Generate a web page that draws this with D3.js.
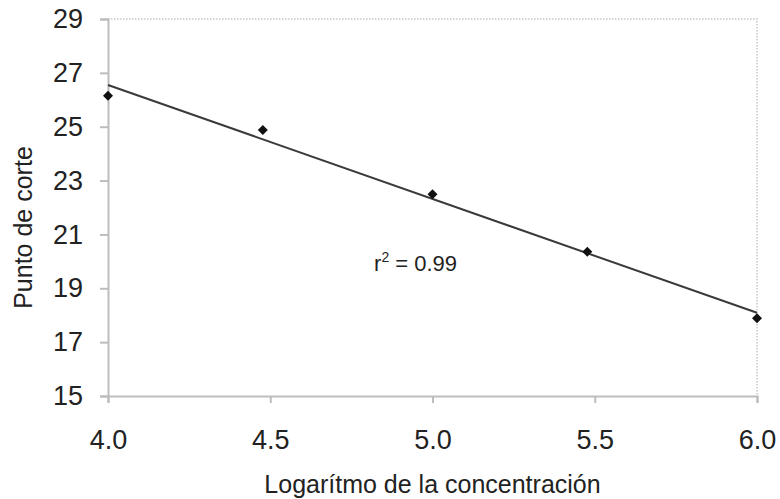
<!DOCTYPE html>
<html><head><meta charset="utf-8">
<script src="https://cdn.jsdelivr.net/npm/d3@7"></script>
<style>body{margin:0;background:#fff}svg{display:block}text{font-family:"Liberation Sans",Arial,sans-serif;fill:#222}</style>
</head><body><svg id="c" width="780" height="499"></svg>
<script>
const xValues = [4.0, 4.477, 5.0, 5.477, 6.0];
const yValues = [26.15, 24.88, 22.49, 20.36, 17.89];
const fitX = [4.0, 6.0];
const fitY = [26.55, 18.09];
const xTicks = [4.0, 4.5, 5.0, 5.5, 6.0];
const yTicks = [15, 17, 19, 21, 23, 25, 27, 29];
const xTitle = "Logarítmo de la concentración";
const yTitle = "Punto de corte";
const rLabel = {x: 4.82, y: 19.66};

const svg = d3.select("#c");
const L = 108, R = 757, T = 19, B = 396;
const x = d3.scaleLinear().domain([4, 6]).range([L, R]);
const y = d3.scaleLinear().domain([15, 29]).range([B, T]);

// dotted top/right border
svg.append("path").attr("d", `M${L},${T}H${R}V${B}`).attr("fill","none")
  .attr("stroke","#c8c8c8").attr("stroke-width",1.5).attr("stroke-dasharray","1.5,1.5");

const yAxis = svg.append("g").attr("transform",`translate(${L},0)`)
  .call(d3.axisLeft(y).tickValues(yTicks).tickSize(8).tickPadding(17).tickFormat(d3.format("d")));
const xAxis = svg.append("g").attr("transform",`translate(0,${B})`)
  .call(d3.axisBottom(x).tickValues(xTicks).tickSize(7).tickPadding(27).tickFormat(d3.format(".1f")));
[xAxis, yAxis].forEach(a => {
  a.select(".domain").attr("stroke","#bdbdbd").attr("stroke-width",2);
  a.selectAll(".tick line").attr("stroke","#bdbdbd").attr("stroke-width",2);
  a.selectAll(".tick text").attr("font-size",27).attr("fill","#222")
    .attr("font-family",'"Liberation Sans",Arial,sans-serif');
});

// fit line
svg.append("line").attr("x1",x(fitX[0])).attr("y1",y(fitY[0])).attr("x2",x(fitX[1])).attr("y2",y(fitY[1]))
  .attr("stroke","#3a3a3a").attr("stroke-width",2);

// points (square rotated 45° = diamond)
const sym = d3.symbol().type(d3.symbolSquare).size(50);
svg.selectAll(".pt").data(xValues).enter().append("path")
  .attr("d", sym).attr("fill","#111")
  .attr("transform",(d,i)=>`translate(${x(d)},${y(yValues[i])}) rotate(45)`);

// r2 label
const t = svg.append("text").attr("x", x(rLabel.x)).attr("y", y(rLabel.y)).attr("font-size",22);
t.append("tspan").text("r");
t.append("tspan").attr("font-size",14).attr("dy",-9).text("2");
t.append("tspan").attr("dy",9).text(" = 0.99");

svg.append("text").attr("x",(L+R)/2).attr("y",493).attr("text-anchor","middle").attr("font-size",25).text(xTitle);
svg.append("text").attr("transform",`translate(32,${(T+B)/2 + 20}) rotate(-90)`).attr("text-anchor","middle").attr("font-size",25).text(yTitle);
</script></body></html>
